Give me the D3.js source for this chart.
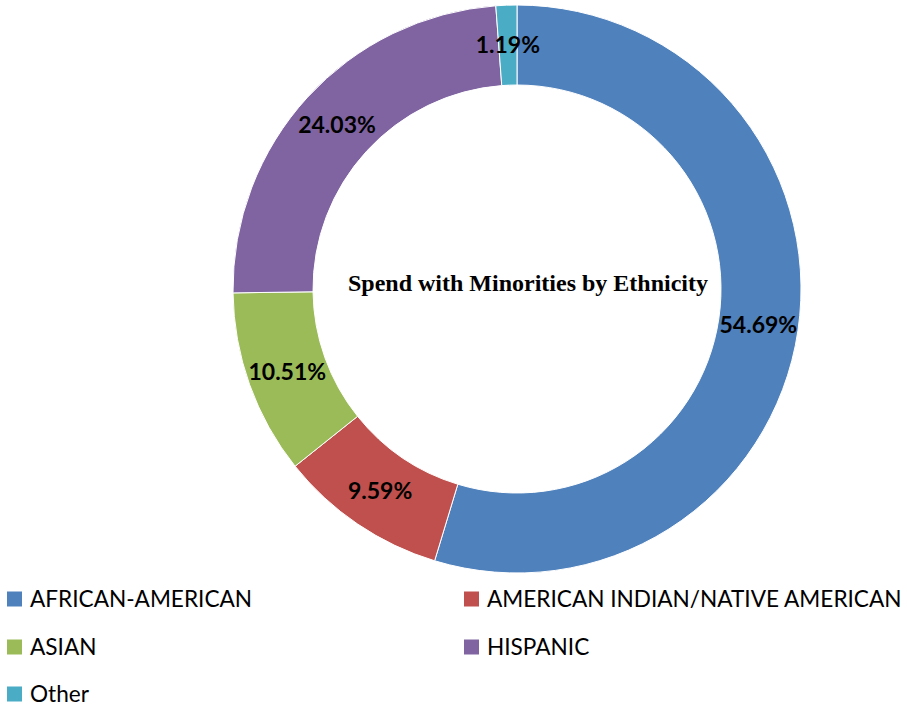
<!DOCTYPE html>
<html>
<head>
<meta charset="utf-8">
<script src="https://cdn.jsdelivr.net/npm/d3@7"></script>
<style>
  body { margin: 0; background: #fff; }
  svg { display: block; }
</style>
</head>
<body>
<div id="container"></div>
<script>
const categories = ['AFRICAN-AMERICAN', 'AMERICAN INDIAN/NATIVE AMERICAN', 'ASIAN', 'HISPANIC', 'Other'];
const shares = [54.69, 9.59, 10.51, 24.03, 1.19];
const colors = ['#4F81BD', '#C0504D', '#9BBB59', '#8064A2', '#4BACC6'];
const title = 'Spend with Minorities by Ethnicity';

const width = 907;
const height = 706;
const cx = 517, cy = 289;
const outerR = 284, innerR = 204;
const labelFont = 'Lato, "Open Sans", sans-serif';

const svg = d3.select('#container').append('svg')
    .attr('width', width)
    .attr('height', height);

const pie = d3.pie().sort(null).value(d => d);
const arc = d3.arc().innerRadius(innerR).outerRadius(outerR);
const arcs = pie(shares);

const g = svg.append('g').attr('transform', `translate(${cx},${cy})`);

g.selectAll('path')
    .data(arcs)
    .enter().append('path')
    .attr('d', arc)
    .attr('fill', (d, i) => colors[i])
    .attr('stroke', '#fff')
    .attr('stroke-width', 1);

// percentage labels
g.selectAll('text.pct')
    .data(arcs)
    .enter().append('text')
    .attr('class', 'pct')
    .attr('transform', d => `translate(${arc.centroid(d)})`)
    .attr('text-anchor', 'middle')
    .attr('dy', '0.36em')
    .style('font-family', labelFont)
    .style('font-weight', 'bold')
    .style('font-size', '23px')
    .attr('fill', '#000')
    .text(d => d.data.toFixed(2) + '%');

// title in the hole
svg.append('text')
    .attr('x', 528)
    .attr('y', 291)
    .attr('text-anchor', 'middle')
    .style('font-family', '"Liberation Serif", "Times New Roman", serif')
    .style('font-weight', 'bold')
    .style('font-size', '24px')
    .text(title);

// legend
const legendPos = [[7, 599], [464, 599], [7, 647], [464, 647], [7, 694]];
const legend = svg.append('g');
categories.forEach((c, i) => {
    const [lx, ly] = legendPos[i];
    legend.append('rect')
        .attr('x', lx)
        .attr('y', ly - 7.5)
        .attr('width', 15)
        .attr('height', 15)
        .attr('fill', colors[i]);
    legend.append('text')
        .attr('x', lx + 23)
        .attr('y', ly)
        .attr('dy', '0.36em')
        .style('font-family', labelFont)
        .style('font-size', '22.6px')
        .attr('fill', '#000')
        .text(c);
});
</script>
</body>
</html>
